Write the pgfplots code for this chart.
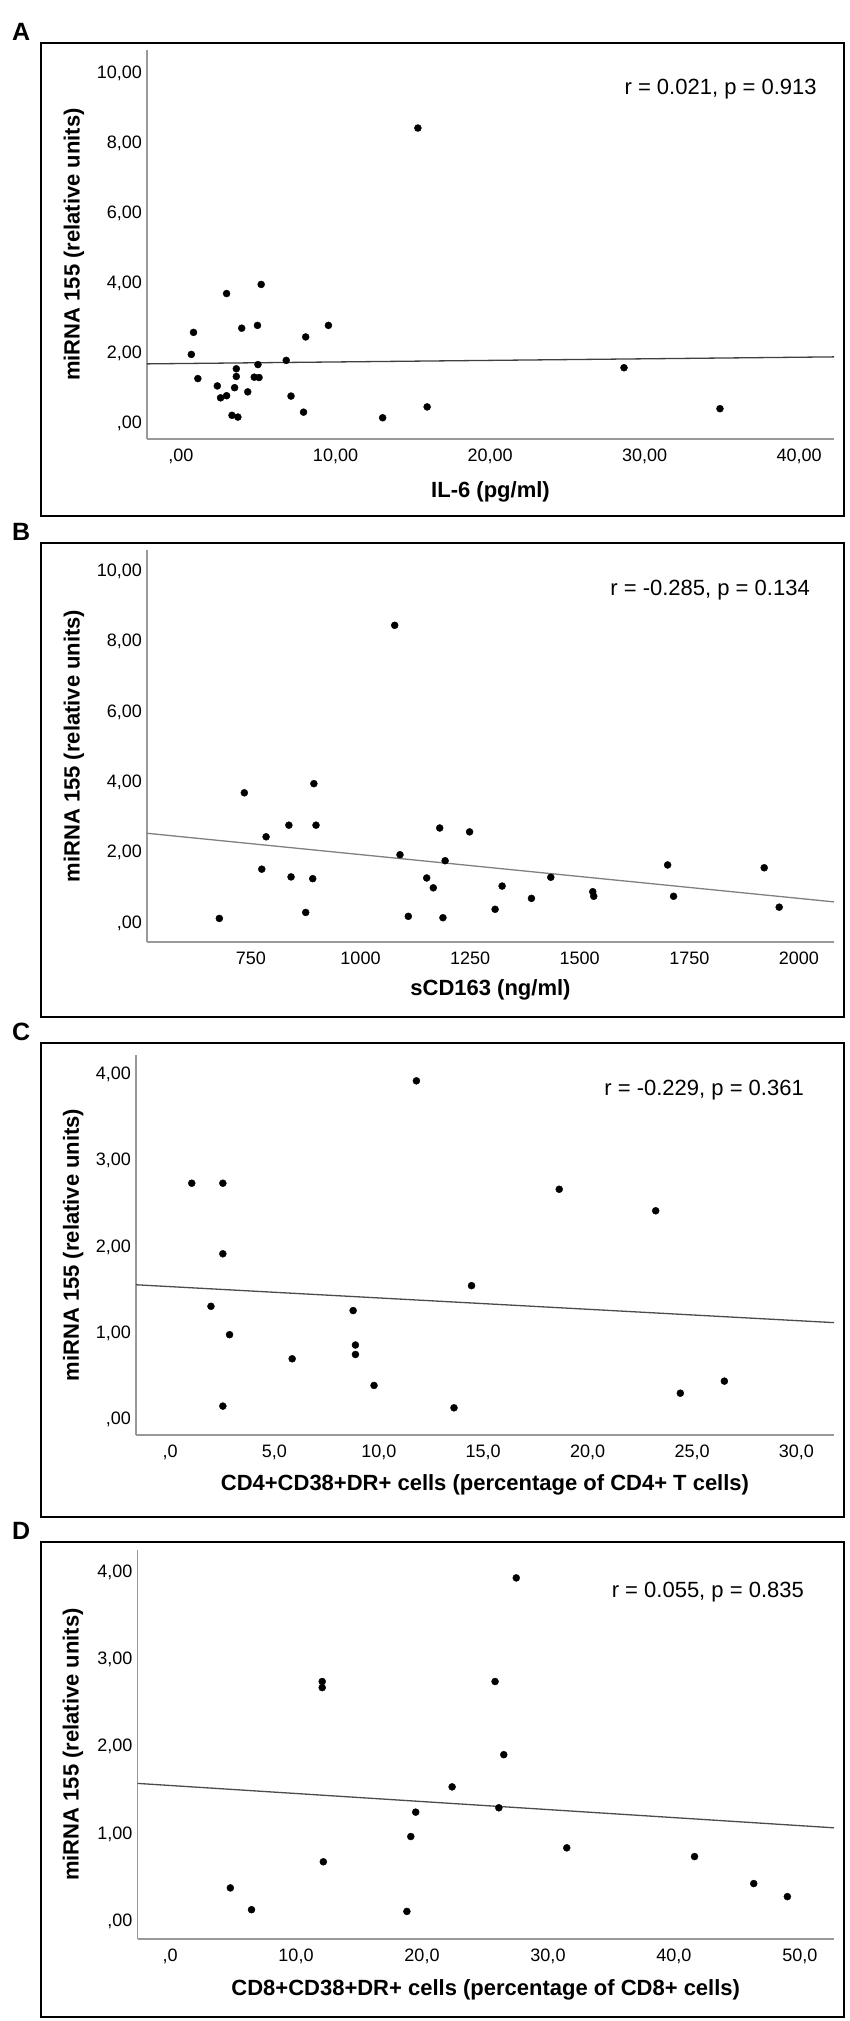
\documentclass[border=0pt]{standalone}
\usepackage{pgfplots}
\pgfplotsset{compat=1.18}
\usepackage{fontspec}
\setmainfont{Liberation Sans}

\pgfplotsset{
  panel/.style={
    scale only axis,
    axis x line*=bottom, axis y line*=left,
    axis line style={draw=black!40, line width=1.3pt},
    major tick length=0pt,
    /pgf/number format/assume math mode=true,
    tick label style={font=\fontsize{18}{20}\selectfont},
    xticklabel style={anchor=north, inner sep=0pt, yshift=-10pt},
    yticklabel style={anchor=east, inner sep=0pt, xshift=-5pt},
    label style={font=\bfseries\fontsize{22}{24}\selectfont},
    ylabel style={anchor=center},
    xlabel style={anchor=center},
    clip=false,
  },
  dots/.style={only marks, mark=*, mark size=3.5pt, black},
  fit/.style={no marks, line width=1.3pt},
}

\begin{document}
\begin{tikzpicture}
\useasboundingbox (0pt,0pt) rectangle (850pt,-2021pt);
\fill[white] (0pt,0pt) rectangle (850pt,-2021pt);

% panel frames
\draw[line width=1.5pt] (41pt,-43pt) rectangle (844pt,-516pt);
\draw[line width=1.5pt] (41pt,-543pt) rectangle (844pt,-1017pt);
\draw[line width=1.5pt] (41pt,-1043pt) rectangle (844pt,-1517pt);
\draw[line width=1.5pt] (41pt,-1542pt) rectangle (844pt,-2017pt);

\node[anchor=base west, inner sep=0pt, font=\bfseries\fontsize{25}{27}\selectfont] at (12pt,-40pt) {A};
\node[anchor=base west, inner sep=0pt, font=\bfseries\fontsize{25}{27}\selectfont] at (12pt,-540pt) {B};
\node[anchor=base west, inner sep=0pt, font=\bfseries\fontsize{25}{27}\selectfont] at (12pt,-1040pt) {C};
\node[anchor=base west, inner sep=0pt, font=\bfseries\fontsize{25}{27}\selectfont] at (12pt,-1539pt) {D};

% ---------------- A ----------------
\begin{axis}[panel,
  at={(147pt,-439pt)}, anchor=south west,
  width=687pt, height=389pt,
  xmin=-2.2, xmax=42.26, ymin=-0.457, ymax=10.66,
  xtick={0,10,20,30,40},
  xticklabels={{,00},{10,00},{20,00},{30,00},{40,00}},
  ytick={0,2,4,6,8,10},
  yticklabels={{,00},{2,00},{4,00},{6,00},{8,00},{10,00}},
  xlabel={IL-6 (pg/ml)},
  ylabel={miRNA 155 (relative units)},
  xlabel style={at={(axis description cs:0.5,-0.136)}},
  ylabel style={at={(axis description cs:-0.1063,0.5)}},
]
\addplot[dots] coordinates {
(15.33,8.43) (5.19,3.96) (2.95,3.70) (3.93,2.71) (4.95,2.79) (9.54,2.79)
(0.81,2.59) (8.07,2.46) (0.67,1.96) (6.81,1.79) (4.98,1.67) (3.58,1.55)
(28.67,1.58) (1.09,1.27) (3.58,1.33) (4.74,1.31) (5.05,1.30) (2.35,1.06)
(3.47,1.01) (4.32,0.89) (2.56,0.72) (2.95,0.78) (7.12,0.77) (15.93,0.46)
(34.88,0.41) (7.93,0.31) (3.30,0.22) (3.68,0.17) (13.05,0.15)
};
\addplot[fit, draw=black!75] coordinates {(-2.2,1.69) (42.26,1.89)};
\node[anchor=east, inner sep=0pt, font=\fontsize{22}{24}\selectfont] at (axis description cs:0.975,0.90) {r = 0.021, p = 0.913};
\end{axis}

% ---------------- B ----------------
\begin{axis}[panel,
  at={(147pt,-942pt)}, anchor=south west,
  width=687pt, height=392pt,
  xmin=513, xmax=2080, ymin=-0.54, ymax=10.6,
  xtick={750,1000,1250,1500,1750,2000},
  xticklabels={750,1000,1250,1500,1750,2000},
  ytick={0,2,4,6,8,10},
  yticklabels={{,00},{2,00},{4,00},{6,00},{8,00},{10,00}},
  xlabel={sCD163 (ng/ml)},
  ylabel={miRNA 155 (relative units)},
  xlabel style={at={(axis description cs:0.5,-0.122)}},
  ylabel style={at={(axis description cs:-0.1063,0.5)}},
]
\addplot[dots] coordinates {
(1078,8.46) (893.6,3.96) (735,3.70) (836.6,2.78) (898.5,2.78) (1180.7,2.70)
(1248.8,2.59) (784.6,2.45) (1090,1.94) (1193,1.77) (1700.5,1.65) (1920.8,1.57)
(774.8,1.53) (841.6,1.31) (891,1.26) (1151,1.28) (1434,1.30) (1166,1.00)
(1323,1.05) (1529.7,0.89) (1532,0.76) (1714,0.76) (1389.9,0.70) (1307,0.39)
(1955,0.45) (875,0.30) (678,0.13) (1109,0.19) (1188,0.15)
};
\addplot[fit, draw=black!50] coordinates {(513,2.55) (2080,0.60)};
\node[anchor=east, inner sep=0pt, font=\fontsize{22}{24}\selectfont] at (axis description cs:0.965,0.898) {r = -0.285, p = 0.134};
\end{axis}

% ---------------- C ----------------
\begin{axis}[panel,
  at={(136pt,-1435pt)}, anchor=south west,
  width=698pt, height=380pt,
  xmin=-1.63, xmax=31.8, ymin=-0.186, ymax=4.23,
  xtick={0,5,10,15,20,25,30},
  xticklabels={{,0},{5,0},{10,0},{15,0},{20,0},{25,0},{30,0}},
  ytick={0,1,2,3,4},
  yticklabels={{,00},{1,00},{2,00},{3,00},{4,00}},
  xlabel={CD4+CD38+DR+ cells (percentage of CD4+ T cells)},
  ylabel={miRNA 155 (relative units)},
  xlabel style={at={(axis description cs:0.5,-0.132)}},
  ylabel style={at={(axis description cs:-0.090,0.5)}},
]
\addplot[dots] coordinates {
(11.8,3.93) (1.04,2.74) (2.53,2.74) (18.64,2.67) (23.26,2.42) (2.53,1.92)
(14.44,1.55) (1.96,1.31) (8.77,1.26) (2.85,0.98) (8.88,0.86) (8.88,0.75)
(5.85,0.70) (26.55,0.44) (9.77,0.39) (24.44,0.30) (2.53,0.15) (13.6,0.13)
};
\addplot[fit, draw=black!70] coordinates {(-1.63,1.56) (31.8,1.12)};
\node[anchor=east, inner sep=0pt, font=\fontsize{22}{24}\selectfont] at (axis description cs:0.957,0.908) {r = -0.229, p = 0.361};
\end{axis}

% ---------------- D ----------------
\begin{axis}[panel,
  at={(137.5pt,-1939pt)}, anchor=south west,
  width=696.5pt, height=389pt,
  xmin=-2.58, xmax=52.7, ymin=-0.207, ymax=4.26,
  xtick={0,10,20,30,40,50},
  xticklabels={{,0},{10,0},{20,0},{30,0},{40,0},{50,0}},
  ytick={0,1,2,3,4},
  yticklabels={{,00},{1,00},{2,00},{3,00},{4,00}},
  xlabel={CD8+CD38+DR+ cells (percentage of CD8+ cells)},
  ylabel={miRNA 155 (relative units)},
  xlabel style={at={(axis description cs:0.5,-0.131)}},
  ylabel style={at={(axis description cs:-0.0926,0.5)}},
]
\addplot[dots] coordinates {
(27.48,3.94) (12.08,2.75) (12.08,2.68) (25.8,2.75) (26.49,1.91) (22.39,1.54)
(26.1,1.30) (19.5,1.25) (19.11,0.97) (31.49,0.84) (12.17,0.68) (41.63,0.74)
(4.79,0.38) (46.33,0.43) (49.0,0.28) (6.47,0.13) (18.8,0.11)
};
\addplot[fit, draw=black!70] coordinates {(-2.58,1.58) (52.7,1.07)};
\node[anchor=east, inner sep=0pt, font=\fontsize{22}{24}\selectfont] at (axis description cs:0.957,0.892) {r = 0.055, p = 0.835};
\end{axis}

\end{tikzpicture}
\end{document}
